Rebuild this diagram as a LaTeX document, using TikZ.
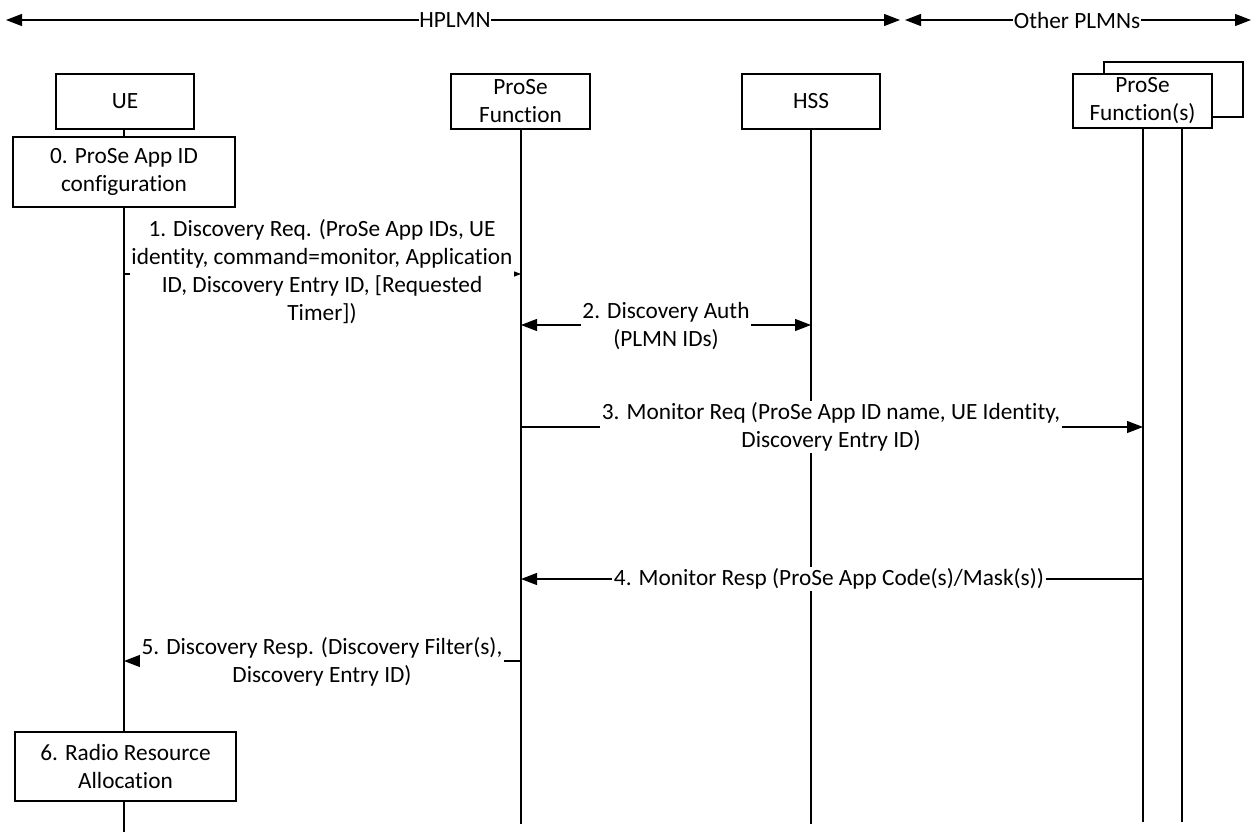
\documentclass[tikz,border=0pt]{standalone}
\usepackage{fontspec}
\setmainfont{Carlito}[Ligatures=NoCommon]
\usetikzlibrary{arrows.meta}
\begin{document}
\begin{tikzpicture}[x=1pt,y=-1pt,
  every node/.style={font=\fontsize{23.3}{28}\selectfont},
  entity/.style={draw, line width=1.1pt, minimum height=55pt, inner sep=0pt, align=center, fill=white},
  action/.style={draw, line width=1.1pt, minimum height=70pt, minimum width=222pt, inner sep=0pt, align=center, fill=white},
  life/.style={line width=1.1pt},
  tip/.style={Triangle[length=16pt,width=12pt]},
  msg/.style={line width=1.1pt, -{Triangle[length=16pt,width=12pt]}},
  twoway/.style={line width=1.1pt, {Triangle[length=16pt,width=12pt]}-{Triangle[length=16pt,width=12pt]}},
  lbl/.style={fill=white, inner sep=1.5pt, align=center}
]
\useasboundingbox (0,0) rectangle (1252,832);

% network domains along the top
\coordinate (hl) at (6,20);
\coordinate (hr) at (900,20);
\coordinate (ol) at (905,20);
\coordinate (or) at (1251,20);
\draw[twoway] (hl) -- (hr);
\draw[twoway] (ol) -- (or);
\node[lbl, inner sep=0.5pt] (hplmn) at (455,20) {HPLMN};
\node[lbl, inner sep=0.5pt] (oplmn) at (1077,20) {Other PLMNs};

% entities
\node[entity, minimum width=138pt] (ue) at (125,101.5) {UE};
\node[entity, minimum width=139pt] (pf) at (520.5,101.5) {ProSe\\Function};
\node[entity, minimum width=138pt] (hss) at (811,101.5) {HSS};
\node[entity, minimum width=139pt, minimum height=55pt] (pfsback) at (1173.5,89.5) {};
\node[entity, minimum width=139pt, minimum height=54pt] (pfs) at (1142.5,101) {ProSe\\Function(s)};

% UE local actions
\node[action] (cfg) at (124,172) {0. ProSe App ID\\configuration};
\node[action, minimum height=69pt, minimum width=221pt] (rra) at (125.5,766.5) {6. Radio Resource\\Allocation};

% lifelines
\coordinate (ueend) at (124,832);
\coordinate (pfend) at (521,824);
\coordinate (hssend) at (811,824);
\coordinate (pfsend) at (1143,822);
\coordinate (pfs2top) at (1182,128);
\coordinate (pfs2end) at (1182,822);
\draw[life] (ue.south -| 124,0) -- (cfg.north -| 124,0);
\draw[life] (cfg.south -| 124,0) -- (rra.north -| 124,0);
\draw[life] (rra.south -| 124,0) -- (ueend);
\draw[life] (pf.south -| 521,0) -- (pfend);
\draw[life] (hss.south) -- (hssend);
\draw[life] (pfs.south -| 1143,0) -- (pfsend);
\draw[life] (pfs2top) -- (pfs2end);

% message endpoints on the lifelines
\coordinate (m1a) at (124,274);  \coordinate (m1b) at (521,274);
\coordinate (m2a) at (521,325);  \coordinate (m2b) at (811,325);
\coordinate (m3a) at (521,427);  \coordinate (m3b) at (1143,427);
\coordinate (m4a) at (1143,579); \coordinate (m4b) at (521,579);
\coordinate (m5a) at (521,661);  \coordinate (m5b) at (124,661);

% messages
\draw[msg] (m1a) -- (m1b);
\node[lbl] (l1) at (322,272) {1. Discovery Req. (ProSe App IDs, UE\\identity, command=monitor, Application\\ID, Discovery Entry ID, [Requested\\Timer])};

\draw[twoway] (m2a) -- (m2b);
\node[lbl] (l2) at (666,326) {2. Discovery Auth\\(PLMN IDs)};

\draw[msg] (m3a) -- (m3b);
\node[lbl] (l3) at (831,427) {3. Monitor Req (ProSe App ID name, UE Identity,\\Discovery Entry ID)};

\draw[msg] (m4a) -- (m4b);
\node[lbl] (l4) at (829,579) {4. Monitor Resp (ProSe App Code(s)/Mask(s))};

\draw[msg] (m5a) -- (m5b);
\node[lbl] (l5) at (322,662) {5. Discovery Resp. (Discovery Filter(s),\\Discovery Entry ID)};
\end{tikzpicture}
\end{document}
